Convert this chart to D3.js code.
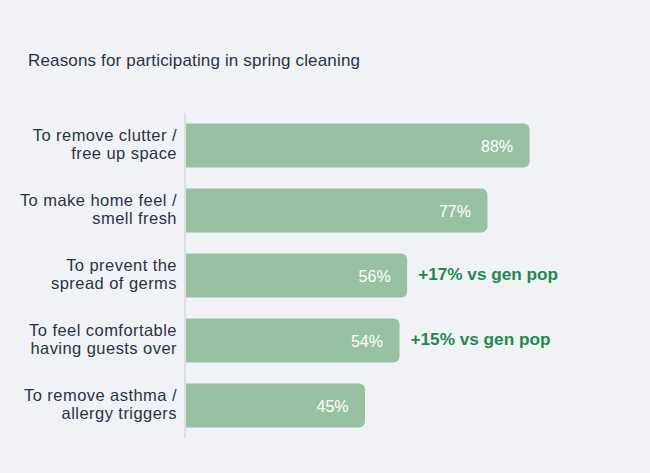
<!DOCTYPE html>
<html><head><meta charset="utf-8">
<script src="https://cdn.jsdelivr.net/npm/d3@7"></script>
<style>
html,body{margin:0;padding:0;background:#f0f2f6;}
svg{display:block;font-family:"Liberation Sans",Arial,Helvetica,sans-serif;}
</style></head>
<body><svg id="c" width="650" height="473"></svg>
<script>
const title = "Reasons for participating in spring cleaning";
const categories = [
  ["To remove clutter /", "free up space"],
  ["To make home feel /", "smell fresh"],
  ["To prevent the", "spread of germs"],
  ["To feel comfortable", "having guests over"],
  ["To remove asthma /", "allergy triggers"]
];
const values = [88, 77, 56, 54, 45];
const annotations = ["", "", "+17% vs gen pop", "+15% vs gen pop", ""];

const svg = d3.select("#c");
const W = 650, H = 473;
svg.append("rect").attr("width", W).attr("height", H).attr("fill", "#f0f2f6");

svg.append("text").attr("x", 28).attr("y", 65.5)
  .attr("font-size", 17).attr("letter-spacing", 0.16).attr("fill", "#2b3245").text(title);

const y = d3.scaleBand().domain(d3.range(categories.length))
  .range([113, 438]).paddingInner(0.323).paddingOuter(0.1615);
const x = d3.scaleLinear().domain([-1.8, 100]).range([186, 186 + 101.8 * 3.826]);

const bar = "#98c1a3", r = 6;
const g = svg.append("g");
values.forEach((v, i) => {
  const x0 = x(-1.8), x1 = x(v), y0 = y(i), h = y.bandwidth(), cy = y0 + h / 2;
  const p = d3.path();
  p.moveTo(x0, y0);
  p.lineTo(x1 - r, y0);
  p.arcTo(x1, y0, x1, y0 + r, r);
  p.lineTo(x1, y0 + h - r);
  p.arcTo(x1, y0 + h, x1 - r, y0 + h, r);
  p.lineTo(x0, y0 + h);
  p.closePath();
  g.append("path").attr("d", p.toString()).attr("fill", bar);
  g.append("text").attr("x", x1 - 16.5).attr("y", cy).attr("dy", "0.4em")
    .attr("text-anchor", "end").attr("font-size", 16).attr("fill", "#ffffff")
    .text(v + "%");
  if (annotations[i]) {
    g.append("text").attr("x", x1 + 11).attr("y", cy).attr("dy", "0.27em")
      .attr("font-size", 17.2).attr("font-weight", "bold").attr("fill", "#1f8a4f")
      .text(annotations[i]);
  }
  const t = g.append("text").attr("text-anchor", "end").attr("font-size", 16.5)
    .attr("letter-spacing", 0.45).attr("fill", "#2b3245");
  categories[i].forEach((line, j) => {
    t.append("tspan").attr("x", 177).attr("y", cy + (j - 0.5) * 17.8 + 4.3).text(line);
  });
});

svg.append("line").attr("x1", 185).attr("x2", 185).attr("y1", 113).attr("y2", 438)
  .attr("stroke", "#d6d8de").attr("stroke-width", 1.5);
</script></body></html>
